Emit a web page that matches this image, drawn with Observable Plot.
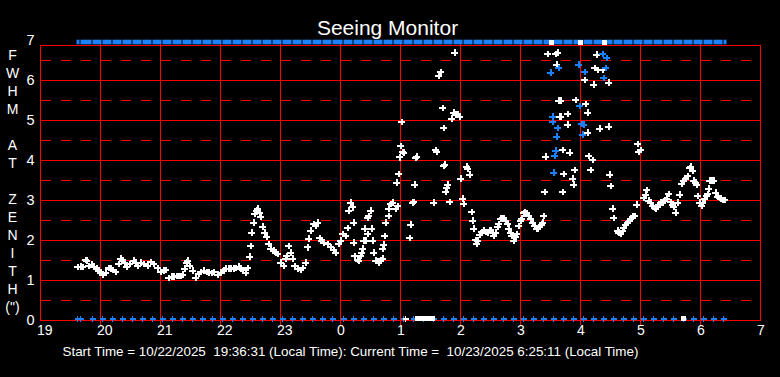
<!DOCTYPE html>
<html>
<head>
<meta charset="utf-8">
<style>
html,body{margin:0;padding:0;background:#000;}
#chart svg{display:block;}
</style>
<script src="https://cdn.jsdelivr.net/npm/d3@7"></script>
<script src="https://cdn.jsdelivr.net/npm/@observablehq/plot@0.6"></script>
</head>
<body>
<div id="chart"></div>
<script>
// ---- texts ----
const title = "Seeing Monitor";
const yLabelLetters = ["F","W","H","M","","A","T","","Z","E","N","I","T","H","(\")"];
const footer = "Start Time = 10/22/2025\u00a0 19:36:31 (Local Time): Current Time =\u00a0 10/23/2025 6:25:11 (Local Time)";

// ---- axes (x = minutes after 19:00) ----
const xTickMinutes = [0,60,120,180,240,300,360,420,480,540,600,660,720];
const xTickLabels = ["19","20","21","22","23","0","1","2","3","4","5","6","7"];
const yTicks = [0,1,2,3,4,5,6,7];
const yTickLabels = ["0","1","2","3","4","5","6","7"];
const yHalfTicks = [0.5,1.5,2.5,3.5,4.5,5.5,6.5];

// ---- start / end of session (minutes after 19:00) ----
const startMinute = 36;
const endMinute = 687;

// ---- white measurements ----
const whiteMin = [
 37,40,42,45,46,48,51,53,56,58,
 60,62,65,68,70,72,75,78,80,82,
 84,86,89,93,95,97,100,103,107,110,
 113,117,120,123,125,128,131,133,136,138,
 140,142,144,146,147,149,152,155,158,160,
 163,166,168,171,173,177,180,183,185,188,
 190,193,195,198,200,202,205,207,209,210,
 211,213,214,216,217,219,220,222,224,226,
 228,230,233,235,237,240,243,245,246,248,
 250,252,254,257,260,262,265,267,268,270,
 273,275,277,279,281,283,287,290,293,295,
 298,300,302,305,307,308,310,312,313,313,
 314,317,318,320,321,322,323,324,325,327,
 327,328,330,331,332,333,335,337,338,340,
 342,342,343,344,345,348,348,350,352,355,
 357,356,358,359,360,362,361,363,369,370,
 372,373,374,375,376,393,395,396,398,400,
 402,403,403,404,405,406,407,409,411,413,
 415,417,419,414,420,422,423,426,427,429,
 431,432,433,435,436,437,439,441,443,445,
 447,449,450,452,453,455,457,458,460,462,
 463,465,467,468,470,471,473,475,476,478,
 480,481,483,484,486,488,490,492,494,496,
 497,499,501,502,503,504,505,507,515,516,
 517,518,519,522,523,522,520,520,527,527,
 529,532,533,534,535,544,545,547,547,548,
 550,552,553,554,556,557,559,562,568,568,
 569,570,572,573,577,578,580,582,583,585,
 587,589,590,592,594,596,597,598,600,603,
 605,606,608,610,612,614,615,617,618,620,
 622,624,626,628,630,632,633,635,637,639,
 641,643,645,647,649,650,652,653,655,656,
 657,659,661,662,664,666,667,668,669,671,
 673,675,677,679,680,682,684
];
const whiteFwhm = [
 1.33,1.35,1.33,1.52,1.5,1.37,1.4,1.35,1.3,1.25,
 1.2,1.15,1.2,1.32,1.3,1.27,1.22,1.42,1.55,1.52,
 1.45,1.35,1.42,1.5,1.45,1.37,1.45,1.42,1.37,1.47,
 1.42,1.32,1.22,1.25,1.27,1.07,1.1,1.1,1.12,1.12,
 1.12,1.15,1.3,1.45,1.5,1.37,1.25,1.07,1.17,1.22,
 1.25,1.22,1.2,1.18,1.22,1.15,1.2,1.25,1.3,1.3,
 1.3,1.3,1.32,1.35,1.3,1.27,1.2,1.32,1.6,1.87,
 2.2,2.45,2.67,2.75,2.8,2.7,2.6,2.35,2.2,2.1,
 1.92,1.8,1.75,1.7,1.67,1.45,1.37,1.55,1.62,1.87,
 1.7,1.55,1.37,1.3,1.27,1.32,1.45,1.83,2.05,2.25,
 2.42,2.37,2.45,2.07,2.0,1.95,1.92,1.83,1.77,1.7,
 1.92,2.0,2.17,2.12,2.32,2.75,2.95,2.83,2.45,1.95,
 1.62,1.52,1.5,1.62,1.7,1.8,2.0,2.3,2.0,2.17,
 2.57,2.62,2.75,2.3,2.0,1.7,1.5,1.48,1.45,1.5,
 1.55,1.8,1.9,2.12,2.45,2.62,2.8,2.92,2.95,2.8,
 2.87,3.45,3.67,4.08,4.37,4.22,4.97,4.2,2.07,2.4,
 2.95,2.97,3.4,4.07,4.1,2.95,4.27,4.22,6.12,6.22,
 5.32,4.82,3.87,3.9,3.22,3.32,3.4,2.97,5.05,5.2,
 5.15,5.17,5.1,6.7,3.55,3.05,2.92,3.85,3.8,3.65,
 2.72,2.5,2.3,2.02,1.92,2.0,2.15,2.22,2.25,2.22,
 2.2,2.25,2.27,2.18,2.12,2.2,2.35,2.42,2.55,2.57,
 2.55,2.5,2.42,2.3,2.2,2.12,2.0,2.1,2.17,2.37,
 2.5,2.55,2.68,2.72,2.68,2.62,2.55,2.45,2.37,2.3,
 2.3,2.37,2.4,2.45,2.62,3.22,4.1,6.67,6.67,6.4,
 6.7,5.5,5.1,4.27,3.67,3.22,5.1,5.5,5.17,4.9,
 4.2,3.55,3.4,3.77,5.52,6.02,5.42,5.2,4.7,4.12,
 3.77,4.02,5.9,6.32,6.65,6.27,4.8,6.27,5.95,4.85,
 3.65,3.37,2.8,2.57,2.25,2.2,2.17,2.25,2.32,2.4,
 2.45,2.5,2.55,2.6,2.62,2.9,4.42,4.22,4.27,3.07,
 3.15,3.27,3.0,2.95,2.87,2.82,2.8,2.85,2.9,2.95,
 2.95,3.0,3.05,3.17,2.97,2.9,2.85,2.7,2.95,3.15,
 3.42,3.5,3.55,3.62,3.82,3.85,3.75,3.5,3.45,3.4,
 3.12,2.95,2.87,2.95,3.05,3.12,3.17,3.3,3.5,3.5,
 3.5,3.2,3.1,3.07,3.05,3.02,3.02
];

// ---- blue measurements ----
const blueMin = [510,518,512,512,517,516,515,514,513,562,566,538,544,565,563,539,541,543,542];
const blueFwhm = [6.2,6.32,5.1,4.97,4.82,4.6,4.25,4.12,3.7,6.67,6.57,6.4,6.22,6.32,6.07,5.37,4.92,4.9,4.65];

// ---- markers along the bottom and top edges ----
const bottomBlueMin = [37,40,52,62,72,82,92,102,112,122,132,142,152,162,172,182,192,202,212,222,232,242,252,262,272,282,292,
 303,313,323,333,343,353,363,373,383,393,403,413,423,433,443,453,463,473,483,493,503,513,523,533,543,553,563,573,583,593,
 603,613,623,633,643,653,663,673,683];
const bottomWhitePlusMin = [365];
const bottomWhiteSquareMin = [377,380,383,386,389,392,643];
const topWhiteMin = [511,540,564];

const RED = "#ff0000";
const BLUE = "#1a82ff";

const plusSymbol = {
  draw(ctx, size) {
    const r = Math.sqrt(size / Math.PI);
    ctx.moveTo(-r, 0); ctx.lineTo(r, 0);
    ctx.moveTo(0, -r); ctx.lineTo(0, r);
  }
};

const whiteIdx = d3.range(whiteMin.length);
const blueIdx = d3.range(blueMin.length);
const topEdges = [startMinute, ...bottomBlueMin.slice(1), endMinute];

const chart = Plot.plot({
  width: 780,
  height: 377,
  marginLeft: 40,
  marginRight: 20,
  marginTop: 40,
  marginBottom: 57,
  style: {background: "#000", color: "#fff", fontFamily: "'Liberation Sans', Arial, sans-serif", fontSize: "14px"},
  x: {domain: [0, 720], axis: null},
  y: {domain: [0, 7], axis: null},
  marks: [
    // grid
    Plot.ruleY(yHalfTicks, {stroke: RED, strokeDasharray: "10,10", strokeDashoffset: -1}),
    Plot.ruleY(yTicks.filter(v => v > 0 && v < 7), {stroke: RED}),
    Plot.ruleX(xTickMinutes.filter(m => m > 0 && m < 720), {y1: 0, y2: 7, insetTop: 5, stroke: RED}),
    Plot.frame({stroke: RED, insetTop: 5}),
    // axes
    Plot.axisY({ticks: yTicks, tickFormat: d => yTickLabels[yTicks.indexOf(d)], tickSize: 0, tickPadding: 6, fill: "#fff", fontSize: 14.5, label: null}),
    Plot.axisX({ticks: xTickMinutes, tickFormat: d => xTickLabels[xTickMinutes.indexOf(d)], tickSize: 0, tickPadding: 5,
      textAnchor: "start", dx: -3.5, fill: "#fff", fontSize: 14, label: null}),
    // top bar
    Plot.rect(d3.pairs(topEdges), {x1: d => d[0], x2: d => d[1], y1: 7, y2: 7, insetLeft: 0.5, insetRight: 0.5,
      insetTop: -0.3, insetBottom: -4.3, fill: BLUE}),
    Plot.dot(topWhiteMin, {x: d => d, y: 7, dy: 2, symbol: "square", r: 2.6, fill: "#fff", shapeRendering: "crispEdges"}),
    // bottom markers
    Plot.dot(bottomBlueMin, {x: d => d, y: 0, dy: -1.5, symbol: plusSymbol, r: 3, stroke: BLUE, fill: "none", strokeWidth: 1.5, shapeRendering: "crispEdges"}),
    Plot.dot(bottomWhitePlusMin, {x: d => d, y: 0, dy: -1.5, symbol: plusSymbol, r: 3, stroke: "#fff", fill: "none", strokeWidth: 1.5, shapeRendering: "crispEdges"}),
    Plot.dot(bottomWhiteSquareMin, {x: d => d, y: 0, dy: -2, symbol: "square", r: 2.6, fill: "#fff", shapeRendering: "crispEdges"}),
    // data
    Plot.dot(whiteIdx, {x: i => whiteMin[i], y: i => whiteFwhm[i], symbol: plusSymbol, r: 3.2, stroke: "#fff", fill: "none", strokeWidth: 2, shapeRendering: "crispEdges"}),
    Plot.dot(blueIdx, {x: i => blueMin[i], y: i => blueFwhm[i], symbol: plusSymbol, r: 3.2, stroke: BLUE, fill: "none", strokeWidth: 2, shapeRendering: "crispEdges"}),
    // texts
    Plot.text([title], {frameAnchor: "top", dx: -13, dy: -20, fontSize: 21, fill: "#fff"}),
    Plot.text([yLabelLetters.map(s => s === "" ? "\u00a0" : s).join("\n")], {frameAnchor: "left", dx: -28, textAnchor: "middle",
      lineHeight: 18 / 14, fontSize: 14, fill: "#fff"}),
    Plot.text([footer], {frameAnchor: "bottom-left", dx: 22, dy: 35, textAnchor: "start", fontSize: 13.4, fill: "#fff"})
  ]
});
document.getElementById("chart").appendChild(chart);
</script>
</body>
</html>
